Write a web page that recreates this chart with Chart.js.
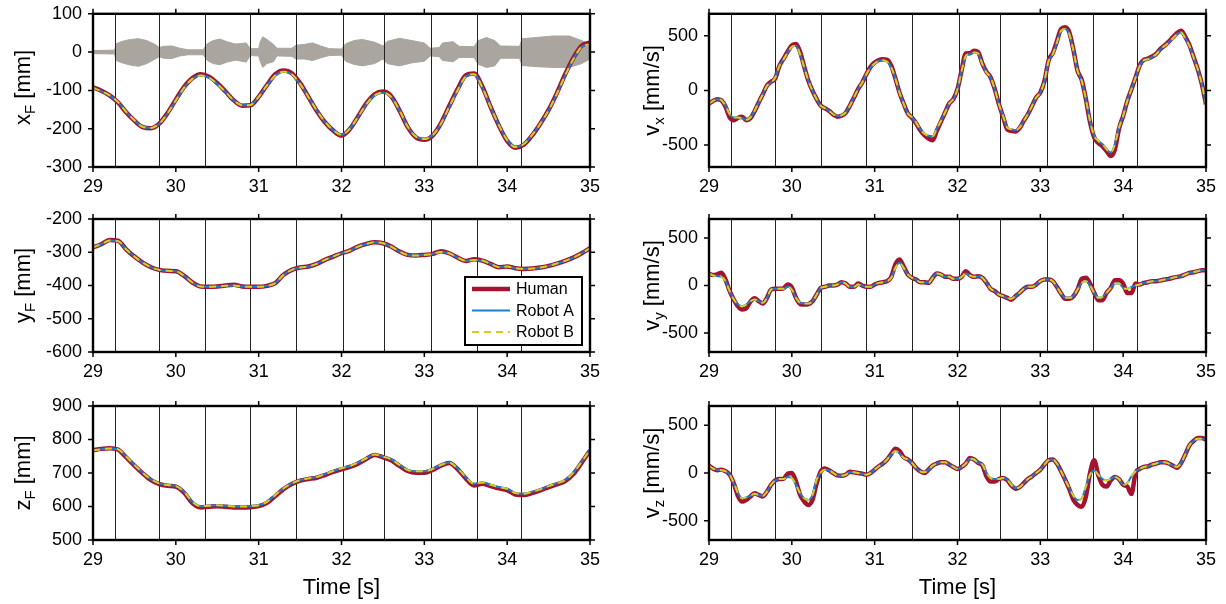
<!DOCTYPE html>
<html>
<head>
<meta charset="utf-8">
<script src="https://cdn.jsdelivr.net/npm/chart.js@4.4.1/dist/chart.umd.min.js"></script>
<style>
  html, body { margin: 0; padding: 0; background: #fff; }
  #wrap { position: relative; width: 1226px; height: 604px; overflow: hidden; }
  canvas { position: absolute; }
</style>
</head>
<body>
<div id="wrap">
  <canvas id="c_xF" width="610" height="205" style="left:0;top:0"></canvas>
  <canvas id="c_yF" width="610" height="195" style="left:0;top:200px"></canvas>
  <canvas id="c_zF" width="610" height="214" style="left:0;top:390px"></canvas>
  <canvas id="c_vx" width="606" height="205" style="left:620px;top:0"></canvas>
  <canvas id="c_vy" width="606" height="195" style="left:620px;top:200px"></canvas>
  <canvas id="c_vz" width="606" height="214" style="left:620px;top:390px"></canvas>
</div>
<script>
// time axis
const timeTicks = [29, 30, 31, 32, 33, 34, 35]
const eventTimes = [29.27, 29.80, 30.35, 30.90, 31.45, 32.02, 32.51, 33.08, 33.63, 34.17]
const ticksXF = [-300, -200, -100, 0, 100]
const ticksYF = [-600, -500, -400, -300, -200]
const ticksZF = [500, 600, 700, 800, 900]
const ticksV = [-500, 0, 500]

// sample times (s)
const tPos = [29.0,29.1,29.2,29.3,29.4,29.5,29.6,29.7,29.8,29.9,
  30.0,30.1,30.2,30.3,30.4,30.5,30.6,30.7,30.8,30.9,
  31.0,31.1,31.2,31.3,31.4,31.5,31.6,31.7,31.8,31.9,
  32.0,32.1,32.2,32.3,32.4,32.5,32.6,32.7,32.8,32.9,
  33.0,33.1,33.2,33.3,33.4,33.5,33.6,33.7,33.8,33.9,
  34.0,34.1,34.2,34.3,34.4,34.5,34.6,34.7,34.8,34.9,
  35.0]
const tVel = [29.00,29.05,29.10,29.15,29.20,29.25,29.30,29.35,29.40,29.45,
  29.50,29.55,29.60,29.65,29.70,29.75,29.80,29.85,29.90,29.95,
  30.00,30.05,30.10,30.15,30.20,30.25,30.30,30.35,30.40,30.45,
  30.50,30.55,30.60,30.65,30.70,30.75,30.80,30.85,30.90,30.95,
  31.00,31.05,31.10,31.15,31.20,31.25,31.30,31.35,31.40,31.45,
  31.50,31.55,31.60,31.65,31.70,31.75,31.80,31.85,31.90,31.95,
  32.00,32.05,32.10,32.15,32.20,32.25,32.30,32.35,32.40,32.45,
  32.50,32.55,32.60,32.65,32.70,32.75,32.80,32.85,32.90,32.95,
  33.00,33.05,33.10,33.15,33.20,33.25,33.30,33.35,33.40,33.45,
  33.50,33.55,33.60,33.65,33.70,33.75,33.80,33.85,33.90,33.95,
  34.00,34.05,34.10,34.15,34.20,34.25,34.30,34.35,34.40,34.45,
  34.50,34.55,34.60,34.65,34.70,34.75,34.80,34.85,34.90,34.95,
  35.00]

// sound envelope (grey band in x_F)
const envT = [29.00,29.26,29.28,29.35,29.45,29.55,29.65,29.75,29.80,29.85,29.95,30.05,30.15,30.33,30.38,30.45,30.53,30.62,30.72,30.85,
  30.90,31.00,31.02,31.05,31.10,31.18,31.22,31.40,31.45,31.55,31.65,31.75,31.85,32.00,32.05,32.15,32.25,32.40,32.50,32.55,
  32.70,32.85,33.00,33.07,33.18,33.22,33.35,33.42,33.60,33.65,33.75,33.85,33.92,34.15,34.18,34.35,34.55,34.75,34.90,35.00]
const envUp = [4,5,22,28,33,35,30,20,12,15,16,10,6,6,22,30,34,27,21,24,
  9,9,28,40,33,20,10,10,18,20,24,16,9,8,22,30,33,26,16,28,
  36,30,24,10,12,24,27,15,14,30,38,30,16,15,35,38,42,42,30,20]
const envLo = [-4,-5,-22,-28,-34,-37,-30,-18,-12,-16,-17,-10,-7,-7,-22,-30,-33,-26,-21,-26,
  -9,-10,-25,-40,-30,-25,-10,-11,-18,-18,-22,-15,-9,-8,-24,-32,-36,-30,-18,-30,
  -36,-28,-24,-10,-12,-22,-25,-14,-14,-32,-40,-36,-16,-16,-35,-38,-40,-40,-30,-18]

// positions (mm)
const humanXF = [-92,-101,-113,-131,-157,-179,-196,-199,-187,-159,
  -124,-91,-68,-58,-64,-81,-103,-126,-140,-139,
  -117,-86,-58,-48,-55,-81,-117,-153,-183,-205,
  -218,-201,-168,-134,-110,-103,-115,-152,-196,-223,
  -229,-218,-186,-141,-97,-61,-56,-90,-143,-192,
  -232,-250,-242,-218,-187,-151,-107,-58,-15,17,
  25]
const robotAXF = [-93,-102,-113,-130,-156,-178,-195,-198,-187,-160,
  -126,-93,-70,-61,-67,-83,-104,-126,-139,-138,
  -117,-87,-61,-51,-58,-83,-117,-152,-182,-204,
  -216,-200,-169,-136,-113,-106,-117,-152,-195,-221,
  -227,-217,-187,-143,-100,-64,-58,-92,-143,-191,
  -230,-248,-240,-217,-187,-152,-109,-61,-18,14,
  20]
const robotBXF = robotAXF

const humanYF = [-285,-276,-263,-265,-291,-313,-331,-345,-353,-356,
  -357,-371,-391,-403,-404,-403,-400,-398,-403,-404,
  -404,-401,-393,-368,-353,-346,-343,-335,-323,-313,
  -303,-295,-283,-275,-270,-273,-283,-298,-308,-310,
  -308,-305,-297,-303,-316,-326,-321,-325,-335,-345,
  -343,-348,-350,-349,-346,-341,-334,-326,-316,-303,
  -288]
const robotAYF = [-285,-276,-265,-266,-291,-313,-331,-345,-353,-356,
  -357,-371,-391,-403,-404,-403,-401,-400,-403,-404,
  -404,-401,-393,-368,-353,-346,-343,-335,-323,-313,
  -303,-295,-283,-275,-270,-273,-283,-298,-308,-310,
  -308,-305,-299,-303,-316,-326,-323,-325,-335,-345,
  -343,-348,-350,-349,-346,-341,-334,-326,-316,-303,
  -288]
const robotBYF = robotAYF

const humanZF = [768,772,774,770,747,722,699,679,667,662,
  659,641,610,597,599,601,599,597,597,598,
  601,611,631,652,667,677,682,686,694,703,
  711,718,728,742,754,747,738,721,706,701,
  701,709,722,730,712,684,663,668,661,654,
  649,636,634,640,648,658,666,676,697,731,
  767]
const robotAZF = [767,771,773,771,749,724,701,681,669,664,
  661,644,614,601,602,604,602,600,600,601,
  604,614,634,654,669,679,684,688,697,706,
  714,721,731,744,755,749,741,724,709,705,
  705,712,724,731,714,688,668,672,665,658,
  653,640,638,644,651,661,669,679,701,734,
  769]
const robotBZF = robotAZF

// velocities (mm/s)
const humanVX = [-120,-96,-80,-92,-150,-248,-272,-250,-240,-272,
  -255,-190,-111,-35,45,80,110,224,290,355,
  410,423,350,215,87,-4,-80,-141,-163,-187,
  -220,-240,-232,-205,-141,-65,11,72,148,215,
  255,278,285,280,225,110,-20,-120,-210,-250,
  -300,-365,-410,-440,-455,-370,-285,-202,-120,-80,
  11,185,337,340,362,350,245,170,118,11,
  -126,-240,-355,-370,-375,-345,-279,-218,-141,-65,
  -19,87,275,340,450,560,576,530,370,178,
  95,-80,-290,-430,-480,-510,-555,-599,-540,-350,
  -233,-96,11,118,230,280,290,310,335,380,
  410,445,485,525,545,490,415,305,194,57,
  -126]
const robotAVX = [-120,-96,-80,-90,-141,-218,-248,-248,-254,-268,
  -248,-187,-111,-35,41,72,118,224,285,346,
  398,407,331,209,87,-4,-80,-141,-163,-187,
  -218,-233,-227,-202,-141,-65,11,72,148,209,
  246,270,276,261,209,110,-20,-120,-210,-245,
  -294,-355,-395,-415,-420,-350,-279,-202,-120,-80,
  11,178,316,331,346,337,240,163,118,11,
  -126,-233,-340,-355,-364,-340,-279,-218,-141,-65,
  -19,87,270,331,438,545,560,514,362,178,
  87,-80,-279,-416,-462,-492,-538,-568,-492,-340,
  -233,-96,11,118,224,276,285,307,331,377,
  407,438,477,514,529,477,407,301,194,57,
  -126]
const robotBVX = robotAVX

const humanVY = [126,110,118,133,60,-60,-150,-220,-253,-240,
  -170,-135,-165,-190,-130,-42,-35,-35,-30,10,
  -20,-130,-195,-200,-195,-165,-95,-25,-14,0,
  0,10,35,21,-14,-14,20,0,-14,-14,
  10,28,35,46,90,221,274,200,116,81,
  63,35,35,28,81,126,116,91,91,70,
  70,91,151,110,91,98,81,28,-35,-60,
  -95,-112,-130,-150,-112,-77,-35,-14,-14,10,
  46,63,63,46,-14,-84,-140,-140,-112,-42,
  70,81,20,-77,-154,-154,-77,-25,56,56,
  20,-80,-80,20,10,28,35,46,46,53,
  63,70,81,91,98,116,133,140,151,161,
  161]
const robotAVY = [126,105,98,91,46,-60,-147,-200,-218,-200,
  -165,-147,-165,-182,-130,-42,-35,-35,-35,-14,
  -42,-130,-182,-189,-189,-165,-95,-25,-14,0,
  0,10,35,21,-14,-14,10,0,-14,-14,
  10,28,35,46,81,186,239,186,116,81,
  63,35,35,28,81,126,116,91,91,70,
  70,91,126,105,91,98,81,28,-35,-60,
  -95,-112,-130,-140,-112,-77,-35,-14,-14,10,
  46,63,63,46,-14,-84,-130,-130,-112,-42,
  28,46,0,-77,-130,-119,-77,-25,21,21,
  -25,-35,-14,0,10,28,35,46,46,53,
  63,70,81,91,98,116,133,140,151,161,
  161]
const robotBVY = robotAVY

const humanVZ = [77,46,30,35,18,-18,-110,-240,-299,-280,
  -245,-211,-229,-245,-194,-123,-77,-63,-60,-7,
  0,-88,-230,-299,-334,-280,-106,18,46,28,
  0,-25,-28,-18,12,7,0,-7,-18,0,
  35,70,99,141,200,254,230,165,141,106,
  53,18,0,35,77,99,113,113,88,63,
  42,63,99,158,141,106,80,-35,-88,-88,
  -63,-53,-75,-130,-165,-148,-106,-63,-35,0,
  35,88,134,141,99,18,-70,-170,-282,-334,
  -352,-247,0,134,-25,-123,-141,-77,-42,-63,
  -123,-141,-218,0,42,63,70,88,99,113,
  113,99,77,55,106,194,289,334,365,365,
  350]
const robotAVZ = [77,46,35,28,18,-18,-106,-211,-264,-254,
  -239,-218,-229,-239,-194,-123,-77,-63,-63,-42,
  -53,-123,-211,-264,-282,-229,-70,7,35,28,
  0,-25,-28,-18,7,7,0,-7,-18,0,
  35,70,99,141,194,229,204,158,141,106,
  53,18,7,35,77,99,113,113,88,63,
  42,63,99,148,141,106,88,0,-53,-63,
  -63,-53,-70,-123,-158,-148,-106,-63,-35,0,
  35,88,134,141,99,18,-70,-158,-239,-282,
  -264,-141,-18,25,-18,-63,-77,-63,-42,-63,
  -123,-106,-35,18,42,63,70,88,99,113,
  113,99,77,63,106,194,289,334,359,359,
  345]
const robotBVZ = robotAVZ

const humanColor = '#A2142F'
const robotAColor = '#1B7FD0'
const robotBColor = '#D6CE1E'
const envColor = '#aaa69f'
const fontFamily = '"Liberation Sans", Arial, sans-serif'

const lineSets = (human, robotA, robotB) => [
  { label: 'Robot B', data: robotB, borderColor: robotBColor, borderWidth: 2, borderDash: [7, 5], order: 0 },
  { label: 'Robot A', data: robotA, borderColor: robotAColor, borderWidth: 2, order: 1 },
  { label: 'Human', data: human, borderColor: humanColor, borderWidth: 4.5, order: 2 }
]

const envSets = () => [
  { label: 'env up', data: envT.map((t, i) => ({ x: t, y: envUp[i] })), fill: 'origin',
    backgroundColor: envColor, borderColor: envColor, borderWidth: 1, tension: 0, cubicInterpolationMode: 'default', order: 3 },
  { label: 'env lo', data: envT.map((t, i) => ({ x: t, y: envLo[i] })), fill: 'origin',
    backgroundColor: envColor, borderColor: envColor, borderWidth: 1, tension: 0, cubicInterpolationMode: 'default', order: 4 }
]

// event lines under the curves, frame and labels on top
const drawEvents = (chart) => {
  const ctx = chart.ctx
  const area = chart.chartArea
  ctx.save()
  ctx.strokeStyle = '#222'
  ctx.lineWidth = 1
  ctx.beginPath()
  eventTimes.forEach(t => {
    const x = Math.round(chart.scales.x.getPixelForValue(t)) + 0.5
    ctx.moveTo(x, area.top)
    ctx.lineTo(x, area.bottom)
  })
  ctx.stroke()
  ctx.restore()
}

const drawYTitle = (ctx, o, area) => {
  ctx.save()
  ctx.translate(o.titleX, (area.top + area.bottom) / 2 + o.titleShift)
  ctx.rotate(-Math.PI / 2)
  ctx.fillStyle = '#000'
  ctx.textAlign = 'left'
  ctx.textBaseline = 'alphabetic'
  const big = '22px ' + fontFamily
  const small = '15px ' + fontFamily
  ctx.font = big
  const w1 = ctx.measureText(o.sym).width
  const w3 = ctx.measureText(' ' + o.unit).width
  ctx.font = small
  const w2 = ctx.measureText(o.sub).width
  let x = -(w1 + w2 + w3) / 2
  ctx.font = big
  ctx.fillText(o.sym, x, 0)
  x += w1
  ctx.font = small
  ctx.fillText(o.sub, x, 5)
  x += w2
  ctx.font = big
  ctx.fillText(' ' + o.unit, x, 0)
  ctx.restore()
}

const drawLegend = (ctx, area) => {
  const w = 117, h = 68
  const left = area.right - 8 - w
  const top = area.bottom - 7 - h
  ctx.save()
  ctx.fillStyle = '#fff'
  ctx.fillRect(left, top, w, h)
  ctx.strokeStyle = '#000'
  ctx.lineWidth = 2
  ctx.strokeRect(left, top, w, h)
  const rows = [
    { text: 'Human', color: humanColor, width: 4.5, dash: [] },
    { text: 'Robot A', color: robotAColor, width: 2, dash: [] },
    { text: 'Robot B', color: robotBColor, width: 2, dash: [7, 5] }
  ]
  ctx.font = '16px ' + fontFamily
  ctx.textBaseline = 'middle'
  rows.forEach((r, i) => {
    const y = top + 12 + i * 21.5
    ctx.beginPath()
    ctx.setLineDash(r.dash)
    ctx.strokeStyle = r.color
    ctx.lineWidth = r.width
    ctx.moveTo(left + 7, y)
    ctx.lineTo(left + 45, y)
    ctx.stroke()
    ctx.setLineDash([])
    ctx.fillStyle = '#000'
    ctx.fillText(r.text, left + 51, y + 1)
  })
  ctx.restore()
}

const framePlugin = {
  id: 'frame',
  beforeDatasetDraw(chart, args) {
    if (chart.data.datasets[args.index].label === 'Human') drawEvents(chart)
  },
  afterDatasetsDraw(chart, args, o) {
    const ctx = chart.ctx
    const area = chart.chartArea
    const xs = chart.scales.x
    const ys = chart.scales.y
    const tl = 5
    ctx.save()
    ctx.strokeStyle = '#000'
    ctx.lineWidth = 1.5
    ctx.beginPath()
    timeTicks.forEach(v => {
      const x = xs.getPixelForValue(v)
      ctx.moveTo(x, area.bottom)
      ctx.lineTo(x, area.bottom + tl)
      ctx.moveTo(x, area.top)
      ctx.lineTo(x, area.top - tl)
    })
    ys.ticks.forEach(t => {
      const y = ys.getPixelForValue(t.value)
      ctx.moveTo(area.left, y)
      ctx.lineTo(area.left - tl, y)
      ctx.moveTo(area.right, y)
      ctx.lineTo(area.right + tl, y)
    })
    ctx.stroke()
    ctx.lineWidth = 2.4
    ctx.strokeRect(area.left, area.top, area.right - area.left, area.bottom - area.top)
    ctx.restore()
    drawYTitle(ctx, o, area)
    if (o.time) {
      ctx.save()
      ctx.fillStyle = '#000'
      ctx.font = '22px ' + fontFamily
      ctx.textAlign = 'center'
      ctx.textBaseline = 'alphabetic'
      ctx.fillText('Time [s]', (area.left + area.right) / 2, o.timeY)
      ctx.restore()
    }
    if (o.legend) drawLegend(ctx, area)
  }
}

const makeChart = (id, p) => {
  const datasets = lineSets(p.human, p.robotA, p.robotB)
  if (p.envelope) datasets.push(...envSets())
  return new Chart(document.getElementById(id), {
    type: 'line',
    data: { labels: p.times, datasets: datasets },
    options: {
      responsive: false,
      animation: false,
      events: [],
      layout: { padding: { top: p.padTop, right: 20, bottom: 0, left: 0 } },
      elements: {
        point: { radius: 0 },
        line: { cubicInterpolationMode: 'monotone', fill: false }
      },
      plugins: {
        legend: { display: false },
        tooltip: { enabled: false },
        frame: { sym: p.sym, sub: p.sub, unit: p.unit, titleX: p.titleX, titleShift: p.titleShift,
          time: p.time, timeY: p.timeY, legend: p.legend }
      },
      scales: {
        x: {
          type: 'linear', min: 29, max: 35,
          afterBuildTicks: s => { s.ticks = timeTicks.map(v => ({ value: v })) },
          afterFit: s => { s.height = p.xAxisH },
          grid: { display: false },
          border: { display: false },
          ticks: { color: '#000', font: { family: fontFamily, size: 18 }, padding: 1, maxRotation: 0, autoSkip: false }
        },
        y: {
          type: 'linear', min: p.yMin, max: p.yMax,
          afterBuildTicks: s => { s.ticks = p.yTicks.map(v => ({ value: v })) },
          afterFit: s => { s.width = p.yAxisW },
          grid: { display: false },
          border: { display: false },
          ticks: { color: '#000', font: { family: fontFamily, size: 18 }, padding: 3, autoSkip: false }
        }
      }
    },
    plugins: [framePlugin]
  })
}

const left = { yAxisW: 93, titleX: 30 }
const right = { yAxisW: 89, titleX: 39 }
const rowTop = { padTop: 13, xAxisH: 38 }
const rowMid = { padTop: 19, xAxisH: 43 }
const rowBot = { padTop: 16, xAxisH: 64, time: true, timeY: 204 }

makeChart('c_xF', { ...left, ...rowTop, times: tPos, human: humanXF, robotA: robotAXF, robotB: robotBXF, envelope: true,
  yMin: -300, yMax: 100, yTicks: ticksXF, sym: 'x', sub: 'F', unit: '[mm]', titleShift: -3 })
makeChart('c_yF', { ...left, ...rowMid, times: tPos, human: humanYF, robotA: robotAYF, robotB: robotBYF, legend: true,
  yMin: -600, yMax: -200, yTicks: ticksYF, sym: 'y', sub: 'F', unit: '[mm]', titleShift: 0 })
makeChart('c_zF', { ...left, ...rowBot, times: tPos, human: humanZF, robotA: robotAZF, robotB: robotBZF,
  yMin: 500, yMax: 900, yTicks: ticksZF, sym: 'z', sub: 'F', unit: '[mm]', titleShift: 0 })
makeChart('c_vx', { ...right, ...rowTop, times: tVel, human: humanVX, robotA: robotAVX, robotB: robotBVX,
  yMin: -700, yMax: 700, yTicks: ticksV, sym: 'v', sub: 'x', unit: '[mm/s]', titleShift: 0 })
makeChart('c_vy', { ...right, ...rowMid, times: tVel, human: humanVY, robotA: robotAVY, robotB: robotBVY,
  yMin: -700, yMax: 700, yTicks: ticksV, sym: 'v', sub: 'y', unit: '[mm/s]', titleShift: 0 })
makeChart('c_vz', { ...right, ...rowBot, times: tVel, human: humanVZ, robotA: robotAVZ, robotB: robotBVZ,
  yMin: -700, yMax: 700, yTicks: ticksV, sym: 'v', sub: 'z', unit: '[mm/s]', titleShift: 0 })
</script>
</body>
</html>
